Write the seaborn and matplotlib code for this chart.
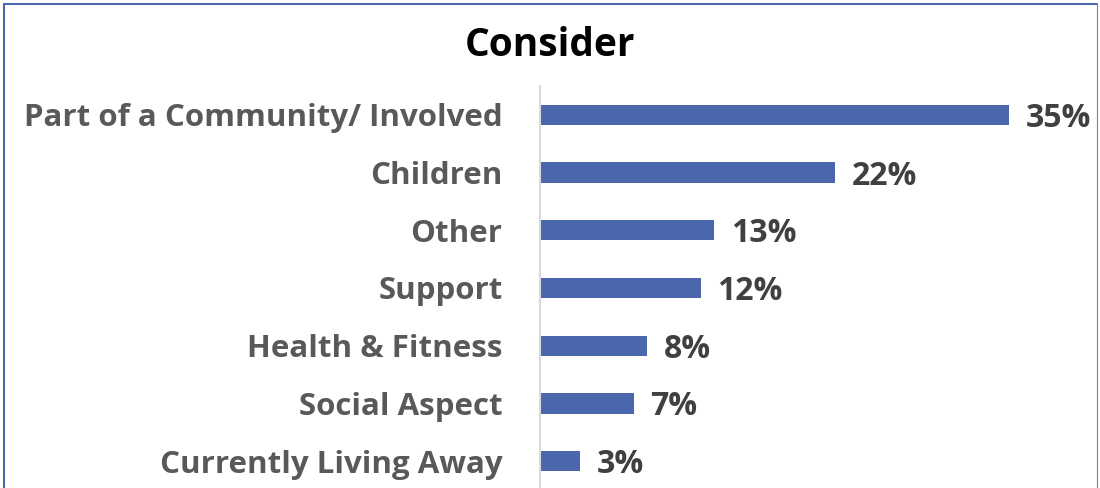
import matplotlib
matplotlib.use("Agg")
import matplotlib.pyplot as plt
import seaborn as sns
import pandas as pd
from matplotlib.lines import Line2D

categories = [
    "Part of a Community/ Involved",
    "Children",
    "Other",
    "Support",
    "Health & Fitness",
    "Social Aspect",
    "Currently Living Away",
]
shares = [35, 22, 13, 12, 8, 7, 3]

df = pd.DataFrame({"category": categories, "share": shares})

sns.set_theme(style="white")
plt.rcParams["font.family"] = ["Open Sans", "DejaVu Sans"]

W, H = 1100, 488
fig = plt.figure(figsize=(W / 100, H / 100), dpi=100)
fig.patch.set_facecolor("white")

ax = fig.add_axes([540 / W, -2 / H, 536 / W, (490 - 86) / H])
sns.barplot(data=df, y="category", x="share", orient="h", color="#4A67AE",
            saturation=1, width=0.35, ax=ax, edgecolor="none")

ax.set_xlim(0, 40)
ax.set_ylim(6.5, -0.5)
ax.set_xlabel("")
ax.set_ylabel("")
ax.set_xticks([])
for s in ["top", "right", "bottom"]:
    ax.spines[s].set_visible(False)
ax.spines["left"].set_color("#D9D9D9")
ax.spines["left"].set_linewidth(1.5)
ax.tick_params(axis="y", length=0, pad=27)
for lbl in ax.get_yticklabels():
    lbl.set_fontsize(22.5)
    lbl.set_fontweight("bold")
    lbl.set_color("#595959")

value_labels = ax.bar_label(ax.containers[0], labels=[f"{v}%" for v in shares],
                            padding=12, fontsize=23, fontweight="bold",
                            color="#404040")
for ann in value_labels:
    ann.xyann = (12, -2.5)

fig.text(0.5, 1 - 45 / H, "Consider", ha="center", va="center",
         fontsize=28, fontweight="bold", color="black")

# frame around the chart area
fig.add_artist(Line2D([4 / W, 1097 / W], [1 - 4 / H, 1 - 4 / H], color="#4A67AE",
                      lw=1.5, transform=fig.transFigure))
fig.add_artist(Line2D([4 / W, 4 / W], [0, 1 - 4 / H], color="#4A67AE",
                      lw=1.5, transform=fig.transFigure))
fig.add_artist(Line2D([1097 / W, 1097 / W], [0, 1 - 4 / H], color="#7F7F7F",
                      lw=0.8, transform=fig.transFigure))

fig.savefig("out.png", dpi=100, facecolor="white")
